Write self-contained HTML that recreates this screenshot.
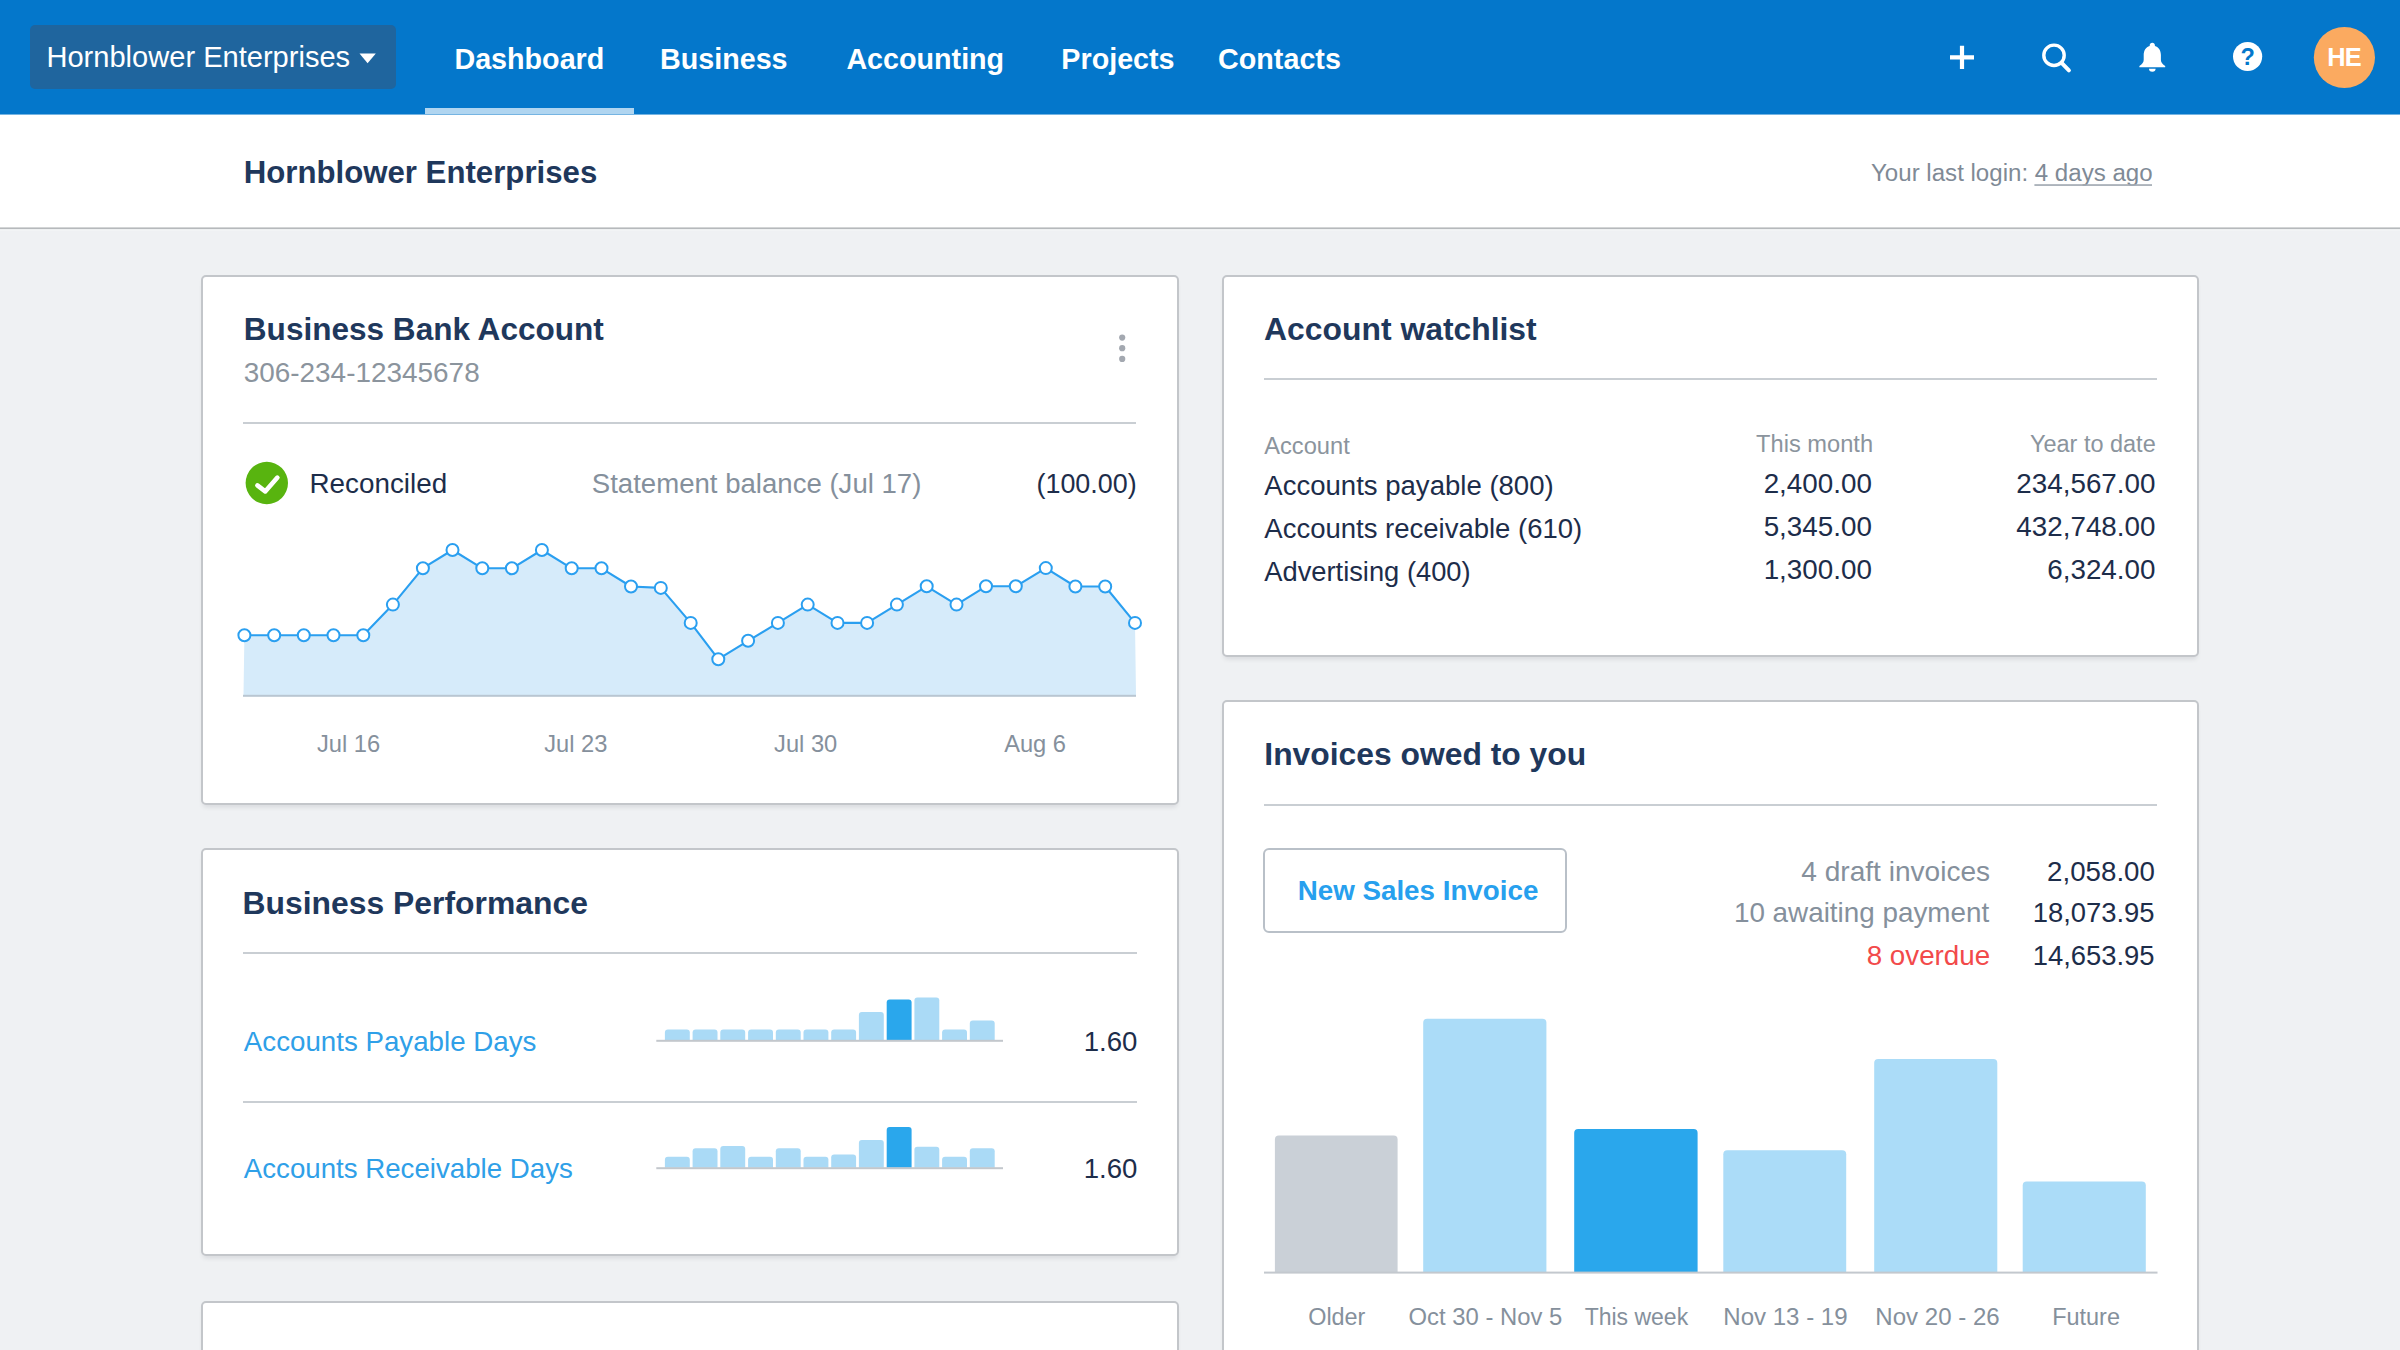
<!DOCTYPE html>
<html><head><meta charset="utf-8"><title>Dashboard</title>
<style>
html,body{margin:0;padding:0;}
body{width:2400px;height:1350px;overflow:hidden;position:relative;background:#eff1f3;font-family:"Liberation Sans",sans-serif;}
.t{position:absolute;white-space:nowrap;line-height:1;}
.abs{position:absolute;}
.card{position:absolute;background:#fff;border:2px solid #c3c6ca;border-radius:5px;box-sizing:border-box;box-shadow:0 4px 5px -2px rgba(0,10,30,.10);}
.hr{position:absolute;height:2px;background:#c9ced3;}
svg{position:absolute;left:0;top:0;overflow:visible;}
</style></head><body>

<div class="abs" style="left:0;top:0;width:2400px;height:114px;background:#0477cb;"></div>
<div class="abs" style="left:30px;top:25px;width:366px;height:64px;background:#1f659e;border-radius:5px;"></div>
<div class="t" style="left:46.48px;top:43.00px;font-size:29.07px;color:#fff;">Hornblower Enterprises</div>
<svg width="2400" height="120"><path d="M359.5 53.5 L375.8 53.5 L367.6 63.3 Z" fill="#fff"/></svg>
<div class="t" style="left:454.44px;top:45.00px;font-size:28.7px;color:#fff;font-weight:700;">Dashboard</div>
<div class="t" style="left:660.00px;top:45.00px;font-size:28.7px;color:#fff;font-weight:700;">Business</div>
<div class="t" style="left:846.38px;top:45.00px;font-size:28.7px;color:#fff;font-weight:700;">Accounting</div>
<div class="t" style="left:1061.37px;top:45.00px;font-size:28.7px;color:#fff;font-weight:700;">Projects</div>
<div class="t" style="left:1218.11px;top:45.00px;font-size:28.7px;color:#fff;font-weight:700;">Contacts</div>
<div class="abs" style="left:425px;top:108px;width:209px;height:6px;background:#b0d5f0;"></div>
<svg width="2400" height="120">
<path d="M1950 57.4 H1974 M1962 45.8 V69" stroke="#fff" stroke-width="4.2" fill="none"/>
<circle cx="2054" cy="55.3" r="10.2" stroke="#fff" stroke-width="3.4" fill="none"/>
<path d="M2061.6 62.9 L2068.9 70.3" stroke="#fff" stroke-width="4" stroke-linecap="round" fill="none"/>
<path d="M2152.3 42.8 c1.5 0 2.6 1.1 2.6 2.5 v0.7 c3.9 1.2 6 4.6 6 9 v5 c0 2.4 1.8 4.2 4.3 6 v1.2 h-25.8 v-1.2 c2.5 -1.8 4.3 -3.6 4.3 -6 v-5 c0 -4.4 2.1 -7.8 6 -9 v-0.7 c0 -1.400 1.100 -2.500 2.600 -2.500 z" fill="#fff"/>
<path d="M2149.0 68.7 h6.6 a3.3 3 0 0 1 -6.600 0 z" fill="#fff"/>
<circle cx="2247.6" cy="56.5" r="14.6" fill="#fff"/>
<circle cx="2344.4" cy="57.5" r="30.6" fill="#fbaa60"/>
</svg>
<div class="t" style="left:2240.60px;top:46.00px;font-size:23.5px;color:#0477cb;font-weight:700;">?</div>
<div class="t" style="left:2327.13px;top:45.00px;font-size:25.4px;color:#fff;font-weight:700;letter-spacing:-0.8px;">HE</div>
<div class="abs" style="left:0;top:114px;width:2400px;height:114px;background:#fff;"></div><svg width="2400" height="240"><rect x="0" y="227.4" width="2400" height="1.9" fill="#b6b9bc"/><rect x="0" y="229.3" width="2400" height="1.2" fill="#f6f7f8"/></svg>
<div class="abs" style="left:0;top:114px;width:2400px;height:1px;background:rgba(4,119,203,.55);"></div>
<div class="t" style="left:243.70px;top:157.00px;font-size:31.19px;color:#1f385c;font-weight:700;">Hornblower Enterprises</div>
<div class="t" style="left:1871.02px;top:161.00px;font-size:24.08px;color:#7f8a96;">Your last login: 4 days ago</div>
<svg width="2400" height="240"><rect x="2034.4" y="184.2" width="117.6" height="1.7" fill="#a3abb4"/></svg>
<div class="card" style="left:201px;top:275px;width:978px;height:530px;"></div>
<div class="card" style="left:201px;top:848px;width:978px;height:408px;"></div>
<div class="card" style="left:201px;top:1301px;width:978px;height:200px;"></div>
<div class="card" style="left:1222px;top:275px;width:977px;height:382px;"></div>
<div class="card" style="left:1222px;top:700px;width:977px;height:800px;"></div>
<div class="t" style="left:243.84px;top:314.00px;font-size:31.56px;color:#1f385c;font-weight:700;">Business Bank Account</div>
<div class="t" style="left:243.66px;top:359.00px;font-size:27.93px;color:#8b949d;">306-234-12345678</div>
<svg width="2400" height="1350"><circle cx="1122.2" cy="337.6" r="3.1" fill="#a3a8b0"/><circle cx="1122.2" cy="348.2" r="3.1" fill="#a3a8b0"/><circle cx="1122.2" cy="358.9" r="3.1" fill="#a3a8b0"/></svg>
<div class="hr" style="left:243px;top:421.7px;width:893px;"></div>
<svg width="2400" height="1350"><circle cx="266.8" cy="483" r="21.2" fill="#58b40f"/>
<path d="M257.4 485.4 L265.2 491.4 L277.4 477.6" stroke="#fff" stroke-width="4.6" fill="none" stroke-linecap="round" stroke-linejoin="round"/></svg>
<div class="t" style="left:309.45px;top:470.00px;font-size:27.83px;color:#1d2d4a;">Reconciled</div>
<div class="t" style="left:591.80px;top:470.00px;font-size:27.58px;color:#85909c;">Statement balance (Jul 17)</div>
<div class="t" style="left:1036.47px;top:471.00px;font-size:26.91px;color:#1d2d4a;">(100.00)</div>
<svg width="2400" height="1350"><polygon points="243.5,695 244.4,635.2 274.2,635.2 303.8,635.2 333.5,635.2 363.3,635.2 392.9,604.6 422.9,568.2 452.5,550.0 482.3,568.3 511.9,568.3 541.9,550.0 571.7,568.3 601.5,568.3 631.0,586.5 660.8,587.9 690.7,622.9 718.3,659.2 748.1,640.8 777.9,622.9 807.7,604.6 837.5,622.9 867.1,622.9 896.9,604.6 926.7,586.3 956.5,604.6 986.0,586.3 1015.8,586.3 1045.8,568.1 1075.4,586.5 1105.2,586.5 1135.0,622.9 1136,695" fill="#d6ebfa"/>
<rect x="243" y="694.8" width="893" height="2" fill="#b9c6d2"/>
<polyline points="244.4,635.2 274.2,635.2 303.8,635.2 333.5,635.2 363.3,635.2 392.9,604.6 422.9,568.2 452.5,550.0 482.3,568.3 511.9,568.3 541.9,550.0 571.7,568.3 601.5,568.3 631.0,586.5 660.8,587.9 690.7,622.9 718.3,659.2 748.1,640.8 777.9,622.9 807.7,604.6 837.5,622.9 867.1,622.9 896.9,604.6 926.7,586.3 956.5,604.6 986.0,586.3 1015.8,586.3 1045.8,568.1 1075.4,586.5 1105.2,586.5 1135.0,622.9" fill="none" stroke="#2a9ff0" stroke-width="2.1" stroke-linejoin="round"/>
<circle cx="244.4" cy="635.2" r="6" fill="#fff" stroke="#2a9ff0" stroke-width="2"/>
<circle cx="274.2" cy="635.2" r="6" fill="#fff" stroke="#2a9ff0" stroke-width="2"/>
<circle cx="303.8" cy="635.2" r="6" fill="#fff" stroke="#2a9ff0" stroke-width="2"/>
<circle cx="333.5" cy="635.2" r="6" fill="#fff" stroke="#2a9ff0" stroke-width="2"/>
<circle cx="363.3" cy="635.2" r="6" fill="#fff" stroke="#2a9ff0" stroke-width="2"/>
<circle cx="392.9" cy="604.6" r="6" fill="#fff" stroke="#2a9ff0" stroke-width="2"/>
<circle cx="422.9" cy="568.2" r="6" fill="#fff" stroke="#2a9ff0" stroke-width="2"/>
<circle cx="452.5" cy="550.0" r="6" fill="#fff" stroke="#2a9ff0" stroke-width="2"/>
<circle cx="482.3" cy="568.3" r="6" fill="#fff" stroke="#2a9ff0" stroke-width="2"/>
<circle cx="511.9" cy="568.3" r="6" fill="#fff" stroke="#2a9ff0" stroke-width="2"/>
<circle cx="541.9" cy="550.0" r="6" fill="#fff" stroke="#2a9ff0" stroke-width="2"/>
<circle cx="571.7" cy="568.3" r="6" fill="#fff" stroke="#2a9ff0" stroke-width="2"/>
<circle cx="601.5" cy="568.3" r="6" fill="#fff" stroke="#2a9ff0" stroke-width="2"/>
<circle cx="631.0" cy="586.5" r="6" fill="#fff" stroke="#2a9ff0" stroke-width="2"/>
<circle cx="660.8" cy="587.9" r="6" fill="#fff" stroke="#2a9ff0" stroke-width="2"/>
<circle cx="690.7" cy="622.9" r="6" fill="#fff" stroke="#2a9ff0" stroke-width="2"/>
<circle cx="718.3" cy="659.2" r="6" fill="#fff" stroke="#2a9ff0" stroke-width="2"/>
<circle cx="748.1" cy="640.8" r="6" fill="#fff" stroke="#2a9ff0" stroke-width="2"/>
<circle cx="777.9" cy="622.9" r="6" fill="#fff" stroke="#2a9ff0" stroke-width="2"/>
<circle cx="807.7" cy="604.6" r="6" fill="#fff" stroke="#2a9ff0" stroke-width="2"/>
<circle cx="837.5" cy="622.9" r="6" fill="#fff" stroke="#2a9ff0" stroke-width="2"/>
<circle cx="867.1" cy="622.9" r="6" fill="#fff" stroke="#2a9ff0" stroke-width="2"/>
<circle cx="896.9" cy="604.6" r="6" fill="#fff" stroke="#2a9ff0" stroke-width="2"/>
<circle cx="926.7" cy="586.3" r="6" fill="#fff" stroke="#2a9ff0" stroke-width="2"/>
<circle cx="956.5" cy="604.6" r="6" fill="#fff" stroke="#2a9ff0" stroke-width="2"/>
<circle cx="986.0" cy="586.3" r="6" fill="#fff" stroke="#2a9ff0" stroke-width="2"/>
<circle cx="1015.8" cy="586.3" r="6" fill="#fff" stroke="#2a9ff0" stroke-width="2"/>
<circle cx="1045.8" cy="568.1" r="6" fill="#fff" stroke="#2a9ff0" stroke-width="2"/>
<circle cx="1075.4" cy="586.5" r="6" fill="#fff" stroke="#2a9ff0" stroke-width="2"/>
<circle cx="1105.2" cy="586.5" r="6" fill="#fff" stroke="#2a9ff0" stroke-width="2"/>
<circle cx="1135.0" cy="622.9" r="6" fill="#fff" stroke="#2a9ff0" stroke-width="2"/>
</svg>
<div class="t" style="left:316.88px;top:733.00px;font-size:23.7px;color:#85909c;">Jul 16</div>
<div class="t" style="left:544.18px;top:733.00px;font-size:23.7px;color:#85909c;">Jul 23</div>
<div class="t" style="left:774.08px;top:733.00px;font-size:23.7px;color:#85909c;">Jul 30</div>
<div class="t" style="left:1004.14px;top:733.00px;font-size:23.7px;color:#85909c;">Aug 6</div>
<div class="t" style="left:242.57px;top:888.00px;font-size:31.86px;color:#1f385c;font-weight:700;">Business Performance</div>
<div class="hr" style="left:243px;top:952.1px;width:894px;"></div>
<div class="hr" style="left:243px;top:1101.2px;width:894px;"></div>
<div class="t" style="left:243.84px;top:1028.00px;font-size:27.71px;color:#2fa0e8;">Accounts Payable Days</div>
<div class="t" style="left:243.84px;top:1155.00px;font-size:27.66px;color:#2fa0e8;">Accounts Receivable Days</div>
<div class="t" style="left:1083.64px;top:1028.00px;font-size:27.6px;color:#1d2d4a;">1.60</div>
<div class="t" style="left:1083.64px;top:1155.00px;font-size:27.6px;color:#1d2d4a;">1.60</div>
<svg width="2400" height="1350">
<path d="M664.9 1040.4 V1032.4 Q664.9 1029.4 667.9 1029.4 H686.8 Q689.8 1029.4 689.8 1032.4 V1040.4 Z" fill="#aadaf6"/>
<path d="M692.6 1040.4 V1032.4 Q692.6 1029.4 695.6 1029.4 H714.5 Q717.5 1029.4 717.5 1032.4 V1040.4 Z" fill="#aadaf6"/>
<path d="M720.3 1040.4 V1032.4 Q720.3 1029.4 723.3 1029.4 H742.2 Q745.2 1029.4 745.2 1032.4 V1040.4 Z" fill="#aadaf6"/>
<path d="M748.1 1040.4 V1032.4 Q748.1 1029.4 751.1 1029.4 H770.0 Q773.0 1029.4 773.0 1032.4 V1040.4 Z" fill="#aadaf6"/>
<path d="M775.8 1040.4 V1032.4 Q775.8 1029.4 778.8 1029.4 H797.7 Q800.7 1029.4 800.7 1032.4 V1040.4 Z" fill="#aadaf6"/>
<path d="M803.5 1040.4 V1032.4 Q803.5 1029.4 806.5 1029.4 H825.4 Q828.4 1029.4 828.4 1032.4 V1040.4 Z" fill="#aadaf6"/>
<path d="M831.2 1040.4 V1032.4 Q831.2 1029.4 834.2 1029.4 H853.1 Q856.1 1029.4 856.1 1032.4 V1040.4 Z" fill="#aadaf6"/>
<path d="M858.9 1040.4 V1015.1 Q858.9 1012.1 861.9 1012.1 H880.8 Q883.8 1012.1 883.8 1015.1 V1040.4 Z" fill="#aadaf6"/>
<path d="M886.7 1040.4 V1002.4 Q886.7 999.4 889.7 999.4 H908.6 Q911.6 999.4 911.6 1002.4 V1040.4 Z" fill="#2aa7ec"/>
<path d="M914.4 1040.4 V1000.4 Q914.4 997.4 917.4 997.4 H936.3 Q939.3 997.4 939.3 1000.4 V1040.4 Z" fill="#aadaf6"/>
<path d="M942.1 1040.4 V1032.4 Q942.1 1029.4 945.1 1029.4 H964.0 Q967.0 1029.4 967.0 1032.4 V1040.4 Z" fill="#aadaf6"/>
<path d="M969.8 1040.4 V1023.4 Q969.8 1020.4 972.8 1020.4 H991.7 Q994.7 1020.4 994.7 1023.4 V1040.4 Z" fill="#aadaf6"/>
<rect x="656.3" y="1039.8000000000002" width="346.7" height="2" fill="#c3c7cc"/>
</svg>
<svg width="2400" height="1350">
<path d="M664.9 1167.8 V1159.8 Q664.9 1156.8 667.9 1156.8 H686.8 Q689.8 1156.8 689.8 1159.8 V1167.8 Z" fill="#aadaf6"/>
<path d="M692.6 1167.8 V1151.3 Q692.6 1148.3 695.6 1148.3 H714.5 Q717.5 1148.3 717.5 1151.3 V1167.8 Z" fill="#aadaf6"/>
<path d="M720.3 1167.8 V1149.1 Q720.3 1146.1 723.3 1146.1 H742.2 Q745.2 1146.1 745.2 1149.1 V1167.8 Z" fill="#aadaf6"/>
<path d="M748.1 1167.8 V1159.8 Q748.1 1156.8 751.1 1156.8 H770.0 Q773.0 1156.8 773.0 1159.8 V1167.8 Z" fill="#aadaf6"/>
<path d="M775.8 1167.8 V1151.3 Q775.8 1148.3 778.8 1148.3 H797.7 Q800.7 1148.3 800.7 1151.3 V1167.8 Z" fill="#aadaf6"/>
<path d="M803.5 1167.8 V1159.8 Q803.5 1156.8 806.5 1156.8 H825.4 Q828.4 1156.8 828.4 1159.8 V1167.8 Z" fill="#aadaf6"/>
<path d="M831.2 1167.8 V1157.6 Q831.2 1154.6 834.2 1154.6 H853.1 Q856.1 1154.6 856.1 1157.6 V1167.8 Z" fill="#aadaf6"/>
<path d="M858.9 1167.8 V1143.1 Q858.9 1140.1 861.9 1140.1 H880.8 Q883.8 1140.1 883.8 1143.1 V1167.8 Z" fill="#aadaf6"/>
<path d="M886.7 1167.8 V1130.1 Q886.7 1127.1 889.7 1127.1 H908.6 Q911.6 1127.1 911.6 1130.1 V1167.8 Z" fill="#2aa7ec"/>
<path d="M914.4 1167.8 V1149.8 Q914.4 1146.8 917.4 1146.8 H936.3 Q939.3 1146.8 939.3 1149.8 V1167.8 Z" fill="#aadaf6"/>
<path d="M942.1 1167.8 V1159.8 Q942.1 1156.8 945.1 1156.8 H964.0 Q967.0 1156.8 967.0 1159.8 V1167.8 Z" fill="#aadaf6"/>
<path d="M969.8 1167.8 V1151.3 Q969.8 1148.3 972.8 1148.3 H991.7 Q994.7 1148.3 994.7 1151.3 V1167.8 Z" fill="#aadaf6"/>
<rect x="656.3" y="1167.2" width="346.7" height="2" fill="#c3c7cc"/>
</svg>
<div class="t" style="left:1264.10px;top:314.00px;font-size:31.87px;color:#1f385c;font-weight:700;">Account watchlist</div>
<div class="hr" style="left:1264px;top:378.2px;width:892.5px;"></div>
<div class="t" style="left:1264.22px;top:435.00px;font-size:23.68px;color:#8b949d;">Account</div>
<div class="t" style="left:1756.11px;top:433.00px;font-size:23.65px;color:#8b949d;">This month</div>
<div class="t" style="left:2029.97px;top:433.00px;font-size:23.47px;color:#8b949d;">Year to date</div>
<div class="t" style="left:1264.28px;top:472.00px;font-size:27.55px;color:#1d2d4a;">Accounts payable (800)</div>
<div class="t" style="left:1763.66px;top:470.00px;font-size:27.8px;color:#1d2d4a;">2,400.00</div>
<div class="t" style="left:2016.34px;top:470.00px;font-size:27.8px;color:#1d2d4a;">234,567.00</div>
<div class="t" style="left:1264.31px;top:515.00px;font-size:27.51px;color:#1d2d4a;">Accounts receivable (610)</div>
<div class="t" style="left:1763.66px;top:513.00px;font-size:27.8px;color:#1d2d4a;">5,345.00</div>
<div class="t" style="left:2016.34px;top:513.00px;font-size:27.8px;color:#1d2d4a;">432,748.00</div>
<div class="t" style="left:1264.28px;top:558.00px;font-size:27.31px;color:#1d2d4a;">Advertising (400)</div>
<div class="t" style="left:1763.66px;top:556.00px;font-size:27.8px;color:#1d2d4a;">1,300.00</div>
<div class="t" style="left:2047.26px;top:556.00px;font-size:27.8px;color:#1d2d4a;">6,324.00</div>
<div class="t" style="left:1264.34px;top:739.00px;font-size:31.84px;color:#1f385c;font-weight:700;">Invoices owed to you</div>
<div class="hr" style="left:1264px;top:804px;width:893px;"></div>
<div class="abs" style="left:1263px;top:848px;width:304px;height:85px;box-sizing:border-box;border:2px solid #b9c0c8;border-radius:6px;background:#fff;"></div>
<div class="t" style="left:1297.71px;top:877.00px;font-size:27.75px;color:#27a0ee;font-weight:700;">New Sales Invoice</div>
<div class="t" style="left:1801.35px;top:858.00px;font-size:28.07px;color:#85909c;">4 draft invoices</div>
<div class="t" style="left:1733.94px;top:899.00px;font-size:27.83px;color:#85909c;">10 awaiting payment</div>
<div class="t" style="left:1866.67px;top:942.00px;font-size:27.77px;color:#f24a4a;">8 overdue</div>
<div class="t" style="left:2047.11px;top:858.00px;font-size:27.69px;color:#1d2d4a;">2,058.00</div>
<div class="t" style="left:2032.69px;top:899.00px;font-size:27.4px;color:#1d2d4a;">18,073.95</div>
<div class="t" style="left:2032.69px;top:942.00px;font-size:27.4px;color:#1d2d4a;">14,653.95</div>
<svg width="2400" height="1350">
<path d="M1274.9 1272 V1139.4 Q1274.9 1135.4 1278.9 1135.4 H1393.6 Q1397.6 1135.4 1397.6 1139.4 V1272 Z" fill="#cad0d7"/>
<path d="M1423.2 1272 V1022.7 Q1423.2 1018.7 1427.2 1018.7 H1542.4 Q1546.4 1018.7 1546.4 1022.7 V1272 Z" fill="#abdcf8"/>
<path d="M1574.2 1272 V1133.1 Q1574.2 1129.1 1578.2 1129.1 H1693.6 Q1697.6 1129.1 1697.6 1133.1 V1272 Z" fill="#2aa7ec"/>
<path d="M1723.3 1272 V1154.3 Q1723.3 1150.3 1727.3 1150.3 H1842.2 Q1846.2 1150.3 1846.2 1154.3 V1272 Z" fill="#abdcf8"/>
<path d="M1874.2 1272 V1063.1 Q1874.2 1059.1 1878.2 1059.1 H1993.3 Q1997.3 1059.1 1997.3 1063.1 V1272 Z" fill="#abdcf8"/>
<path d="M2022.7 1272 V1185.4 Q2022.7 1181.4 2026.7 1181.4 H2141.8 Q2145.8 1181.4 2145.8 1185.4 V1272 Z" fill="#abdcf8"/>
<rect x="1264" y="1271.6" width="893.5" height="2" fill="#c3c8ce"/>
</svg>
<div class="t" style="left:1308.18px;top:1306.00px;font-size:23.41px;color:#85909c;">Older</div>
<div class="t" style="left:1408.57px;top:1305.00px;font-size:23.84px;color:#85909c;">Oct 30 - Nov 5</div>
<div class="t" style="left:1584.63px;top:1306.00px;font-size:23.0px;color:#85909c;">This week</div>
<div class="t" style="left:1723.28px;top:1305.00px;font-size:24.05px;color:#85909c;">Nov 13 - 19</div>
<div class="t" style="left:1875.33px;top:1305.00px;font-size:24.06px;color:#85909c;">Nov 20 - 26</div>
<div class="t" style="left:2052.16px;top:1306.00px;font-size:23.47px;color:#85909c;">Future</div>
</body></html>
